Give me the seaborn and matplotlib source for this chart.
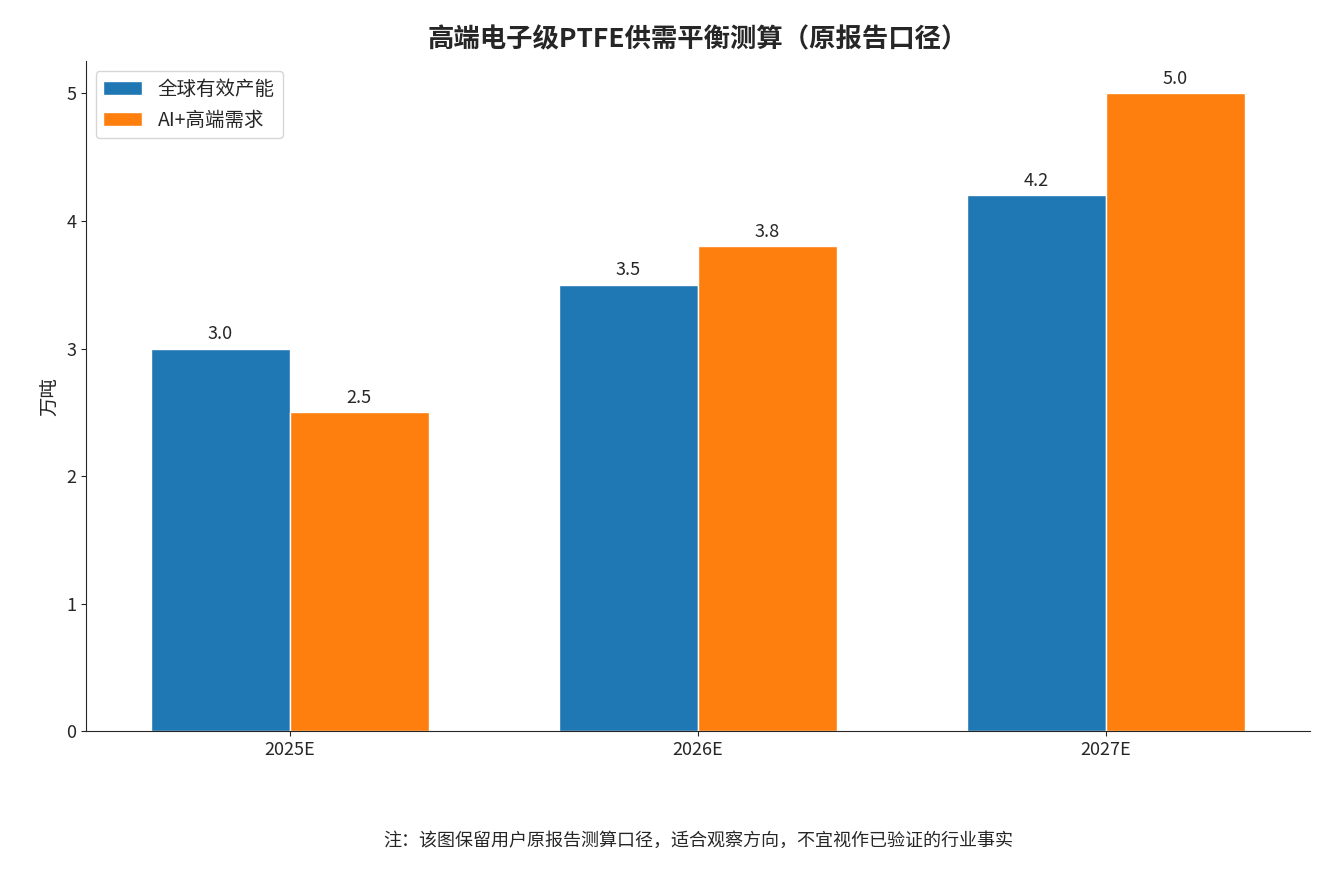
import pandas as pd
import seaborn as sns
import matplotlib.pyplot as plt

years = ["2025E", "2026E", "2027E"]
supply = [3.0, 3.5, 4.2]
demand = [2.5, 3.8, 5.0]
series_names = ["全球有效产能", "AI+高端需求"]

df = pd.DataFrame({
    "year": years * 2,
    "value": supply + demand,
    "series": [series_names[0]] * 3 + [series_names[1]] * 3,
})

sns.set_style("ticks")
plt.rcParams['font.family'] = ['Noto Sans CJK SC', 'DejaVu Sans']

fig, ax = plt.subplots(figsize=(13.42, 8.76), dpi=100)
sns.barplot(data=df, x="year", y="value", hue="series", width=0.68,
            palette=["#1f77b4", "#ff7f0e"], saturation=1, ax=ax)
for c in ax.containers:
    ax.bar_label(c, fmt="%.1f", padding=4, fontsize=13)

ax.set_ylim(0, 5.25)
ax.set_xlabel("")
ax.set_ylabel("万吨", fontsize=14)
ax.tick_params(labelsize=13)
ax.set_title("高端电子级PTFE供需平衡测算（原报告口径）", fontsize=19, fontweight="bold", pad=10)
ax.legend(title=None, loc="upper left", fontsize=14, frameon=True)
sns.despine(ax=ax)
fig.subplots_adjust(left=0.064, right=0.976, top=0.93, bottom=0.165)
fig.text(0.52, 0.035, "注：该图保留用户原报告测算口径，适合观察方向，不宜视作已验证的行业事实",
         ha="center", fontsize=13)
fig.savefig("out.png")
